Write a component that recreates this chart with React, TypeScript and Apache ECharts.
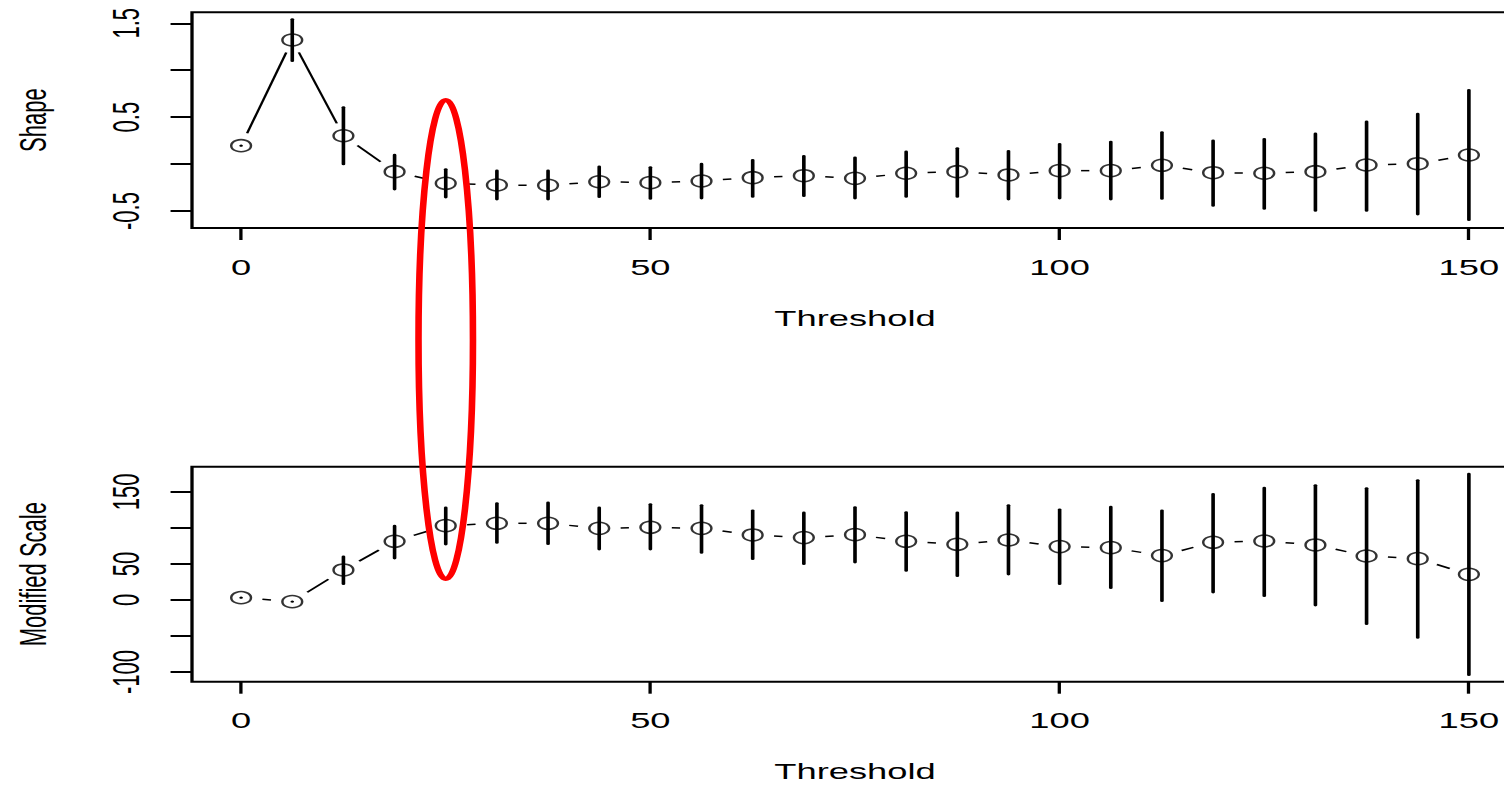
import React, { useEffect, useRef } from "react";
import * as echarts from "echarts";

// Threshold values (x)
const thresholds = [0, 6.25, 12.5, 18.75, 25, 31.25, 37.5, 43.75, 50, 56.25, 62.5, 68.75, 75, 81.25, 87.5, 93.75, 100, 106.25, 112.5, 118.75, 125, 131.25, 137.5, 143.75, 150];

// Shape estimates and confidence bounds
const shapeEst = [0.196, 1.322, 0.302, -0.081, -0.205, -0.223, -0.226, -0.188, -0.198, -0.18, -0.145, -0.124, -0.152, -0.098, -0.081, -0.116, -0.07, -0.07, -0.013, -0.092, -0.098, -0.081, -0.01, 0.004, 0.097];
const shapeLower = [0.196, 1.098, -0.002, -0.269, -0.354, -0.375, -0.375, -0.351, -0.369, -0.365, -0.348, -0.34, -0.365, -0.348, -0.348, -0.375, -0.365, -0.375, -0.369, -0.443, -0.475, -0.497, -0.497, -0.535, -0.596];
const shapeUpper = [0.196, 1.543, 0.605, 0.097, -0.056, -0.07, -0.07, -0.028, -0.035, 0.002, 0.043, 0.086, 0.068, 0.132, 0.168, 0.139, 0.214, 0.238, 0.339, 0.249, 0.267, 0.324, 0.452, 0.534, 0.789];

// Modified scale estimates and confidence bounds
const scaleEst = [3.2, -2.3, 41.7, 81.5, 103.2, 106.5, 106.5, 99.5, 100.9, 99.5, 90.3, 86.6, 90.7, 81.5, 77.3, 83.3, 74.1, 72.7, 61.6, 80.1, 81.9, 76.4, 61.1, 57.4, 35.6];
const scaleLower = [3.2, -2.3, 22.2, 57.9, 77.3, 79.6, 77.8, 70.4, 70.4, 65.7, 56.9, 50, 52.3, 40.7, 33.3, 35.6, 22.2, 16.7, -1.4, 10.6, 5.6, -7.4, -33.3, -52.3, -104.2];
const scaleUpper = [3.2, -2.3, 60.2, 102.8, 128.2, 134.3, 135.2, 128.2, 132.9, 131.5, 124.1, 121.3, 128.7, 121.8, 121.3, 131.5, 125.5, 129.2, 124.1, 147.2, 155.6, 159.3, 155.1, 166.2, 175];

// Axis ticks / labels
const xTicks = [0, 50, 100, 150];
const shapeTicks = [-0.5, 0, 0.5, 1, 1.5];
const shapeLabels = [-0.5, 0.5, 1.5];
const scaleTicks = [-100, -50, 0, 50, 100, 150];
const scaleLabels = [-100, 0, 50, 150];

const highlightThreshold = 25;

const STRETCH = 1.65;
const INNER_W = 1540; // page px covered by the (unclipped) chart
const FONT = "'Liberation Sans', Arial, Helvetica, sans-serif";
const GAP = 13;

function errorBarItem(params: any, api: any) {
  const a = api.coord([api.value(0), api.value(1)]);
  const b = api.coord([api.value(0), api.value(2)]);
  if (Math.abs(a[1] - b[1]) < 1.5) {
    return {
      type: "circle",
      shape: { cx: a[0], cy: (a[1] + b[1]) / 2, r: 1.1 },
      style: { fill: "#000" },
    };
  }
  return {
    type: "line",
    shape: { x1: a[0], y1: a[1], x2: b[0], y2: b[1] },
    style: { stroke: "#000", lineWidth: 2.2, lineCap: "round" },
  };
}

function gapLineItem(params: any, api: any) {
  const p1 = api.coord([api.value(0), api.value(1)]);
  const p2 = api.coord([api.value(2), api.value(3)]);
  const dx = p2[0] - p1[0];
  const dy = p2[1] - p1[1];
  const len = Math.sqrt(dx * dx + dy * dy);
  if (len <= 2 * GAP) return { type: "group", children: [] };
  const ux = dx / len;
  const uy = dy / len;
  return {
    type: "line",
    shape: {
      x1: p1[0] + ux * GAP,
      y1: p1[1] + uy * GAP,
      x2: p2[0] - ux * GAP,
      y2: p2[1] - uy * GAP,
    },
    style: { stroke: "#000", lineWidth: 1.5 },
  };
}

function pairs(est: number[]) {
  const out: number[][] = [];
  for (let i = 0; i < thresholds.length - 1; i++) {
    out.push([thresholds[i], est[i], thresholds[i + 1], est[i + 1]]);
  }
  return out;
}

function xAxisDef(gridIndex: number) {
  return {
    type: "value",
    gridIndex,
    min: -6,
    max: 156,
    axisLine: { show: false, onZero: false },
    axisTick: { show: true, customValues: xTicks, length: 12, lineStyle: { color: "#000", width: 2 } },
    axisLabel: { customValues: xTicks, fontSize: 22, color: "#000", margin: 28, fontFamily: FONT },
    splitLine: { show: false },
    name: "Threshold",
    nameLocation: "middle",
    nameGap: 79,
    nameTextStyle: { fontSize: 22, color: "#000", fontFamily: FONT },
  };
}

function yAxisDef(gridIndex: number, name: string, min: number, max: number, ticks: number[], labels: number[]) {
  return {
    type: "value",
    gridIndex,
    min,
    max,
    axisLine: { show: false, onZero: false },
    axisTick: { show: true, customValues: ticks, length: 13, lineStyle: { color: "#000", width: 2 } },
    axisLabel: { customValues: labels, rotate: 90, fontSize: 22, color: "#000", margin: 29, fontFamily: FONT },
    splitLine: { show: false },
    name,
    nameLocation: "middle",
    nameRotate: 90,
    nameGap: 85,
    nameTextStyle: { fontSize: 22, color: "#000", fontFamily: FONT },
  };
}

export default function App() {
  const ref = useRef<HTMLDivElement>(null);
  useEffect(() => {
    if (!ref.current) return;
    const chart = echarts.init(ref.current, null, { renderer: "svg" });
    const gridLeft = 192 / STRETCH;
    const gridWidth = (1518 - 192) / STRETCH;
    const markerStyle = { color: "rgba(0,0,0,0)", borderColor: "#000", borderWidth: 1.5 };
    chart.setOption({
      animation: false,
      backgroundColor: "#fff",
      grid: [
        { left: gridLeft, top: 12.3, width: gridWidth, height: 215.7, show: true, borderColor: "#000", borderWidth: 2, backgroundColor: "transparent" },
        { left: gridLeft, top: 466.7, width: gridWidth, height: 215, show: true, borderColor: "#000", borderWidth: 2, backgroundColor: "transparent" },
      ],
      xAxis: [xAxisDef(0), xAxisDef(1)],
      yAxis: [
        yAxisDef(0, "Shape", -0.681, 1.617, shapeTicks, shapeLabels),
        yAxisDef(1, "Modified Scale", -113.5, 185.1, scaleTicks, scaleLabels),
      ],
      series: [
        {
          type: "custom",
          xAxisIndex: 0,
          yAxisIndex: 0,
          renderItem: errorBarItem,
          encode: { x: 0, y: [1, 2] },
          data: thresholds.map((t, i) => [t, shapeLower[i], shapeUpper[i]]),
          z: 2,
        },
        {
          type: "custom",
          xAxisIndex: 0,
          yAxisIndex: 0,
          renderItem: gapLineItem,
          encode: { x: [0, 2], y: [1, 3] },
          data: pairs(shapeEst),
          z: 2,
        },
        {
          type: "scatter",
          xAxisIndex: 0,
          yAxisIndex: 0,
          symbol: "circle",
          symbolSize: 12,
          itemStyle: markerStyle,
          data: thresholds.map((t, i) => [t, shapeEst[i]]),
          z: 3,
        },
        {
          type: "custom",
          xAxisIndex: 1,
          yAxisIndex: 1,
          renderItem: errorBarItem,
          encode: { x: 0, y: [1, 2] },
          data: thresholds.map((t, i) => [t, scaleLower[i], scaleUpper[i]]),
          z: 2,
        },
        {
          type: "custom",
          xAxisIndex: 1,
          yAxisIndex: 1,
          renderItem: gapLineItem,
          encode: { x: [0, 2], y: [1, 3] },
          data: pairs(scaleEst),
          z: 2,
        },
        {
          type: "scatter",
          xAxisIndex: 1,
          yAxisIndex: 1,
          symbol: "circle",
          symbolSize: 12,
          itemStyle: markerStyle,
          data: thresholds.map((t, i) => [t, scaleEst[i]]),
          z: 3,
        },
      ],
    });
    const cx = chart.convertToPixel({ xAxisIndex: 0 }, highlightThreshold) as number;
    chart.setOption({
      graphic: [
        {
          type: "ellipse",
          shape: { cx, cy: 339.5, rx: 16.5, ry: 239.5 },
          style: { fill: "none", stroke: "#ff0000", lineWidth: 4 },
          z: 100,
        },
      ],
    });
    return () => chart.dispose();
  }, []);
  return (
    <div
      style={{
        position: "absolute",
        left: 0,
        top: 0,
        width: 1504,
        height: 787,
        overflow: "hidden",
        background: "#fff",
      }}
    >
      <div
        ref={ref}
        style={{
          position: "absolute",
          left: 0,
          top: 0,
          width: INNER_W / STRETCH,
          height: 787,
          transform: `scaleX(${STRETCH})`,
          transformOrigin: "0 0",
        }}
      />
    </div>
  );
}
